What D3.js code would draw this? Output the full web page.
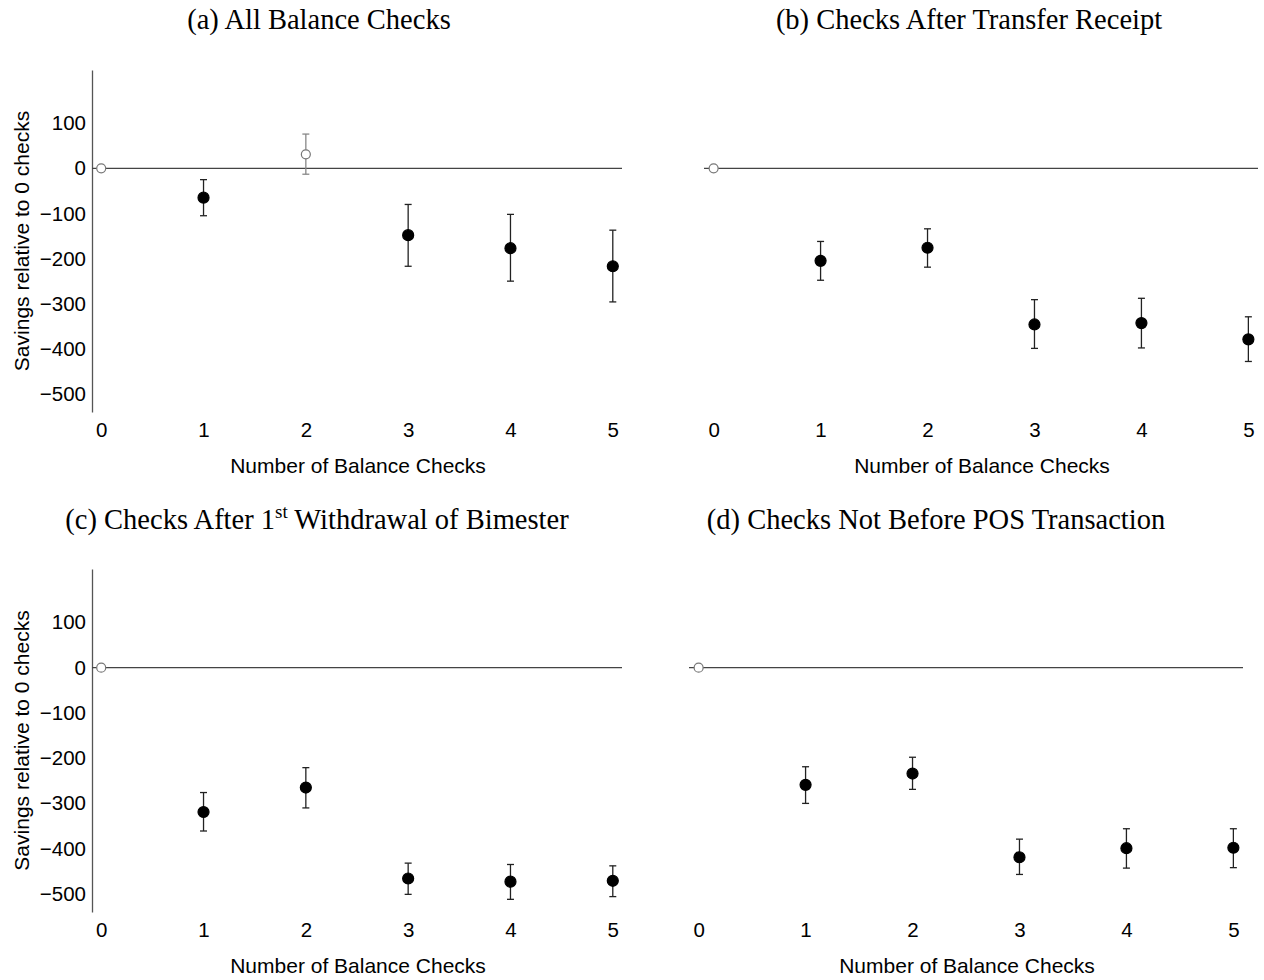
<!DOCTYPE html>
<html>
<head>
<meta charset="utf-8">
<script src="https://cdn.jsdelivr.net/npm/d3@7"></script>
<style>
  body { margin: 0; background: #fff; }
  svg { display: block; }
</style>
</head>
<body>
<svg id="chart" width="1264" height="980"></svg>
<script>
// number of balance checks on the x axis
var checks = [0, 1, 2, 3, 4, 5]
var xTickLabels = ["0", "1", "2", "3", "4", "5"]
var yTicks = [100, 0, -100, -200, -300, -400, -500]

// (a) all balance checks
var estA = [0, -65, 31, -148, -177, -217]
var loA  = [null, -105, -13, -217, -250, -296]
var hiA  = [null, -25, 76, -80, -102, -137]
var sigA = [false, true, false, true, true, true]

// (b) checks after transfer receipt
var estB = [0, -205, -176, -346, -343, -379]
var loB  = [null, -248, -219, -399, -398, -428]
var hiB  = [null, -162, -134, -291, -288, -329]
var sigB = [false, true, true, true, true, true]

// (c) checks after 1st withdrawal of bimester
var estC = [0, -319, -265, -466, -473, -471]
var loC  = [null, -361, -310, -501, -512, -506]
var hiC  = [null, -276, -221, -432, -435, -438]
var sigC = [false, true, true, true, true, true]

// (d) checks not before POS transaction
var estD = [0, -259, -234, -419, -399, -398]
var loD  = [null, -300, -269, -457, -443, -442]
var hiD  = [null, -219, -198, -379, -356, -356]
var sigD = [false, true, true, true, true, true]

var yDomain = [-540, 218]
var xTitle = "Number of Balance Checks"
var yTitle = "Savings relative to 0 checks"

var panels = [
    { est: estA, lo: loA, hi: hiA, sig: sigA, left: 92, right: 622, top: 70, bottom: 412,
      yAxis: true, title: ["(a) All Balance Checks"], titleX: 319, titleY: 29 },
    { est: estB, lo: loB, hi: hiB, sig: sigB, left: 704, right: 1258, top: 70, bottom: 412,
      yAxis: false, title: ["(b) Checks After Transfer Receipt"], titleX: 969, titleY: 29 },
    { est: estC, lo: loC, hi: hiC, sig: sigC, left: 92, right: 622, top: 569, bottom: 912,
      yAxis: true, title: ["(c) Checks After 1", "st", " Withdrawal of Bimester"], titleX: 317, titleY: 529 },
    { est: estD, lo: loD, hi: hiD, sig: sigD, left: 689, right: 1243, top: 569, bottom: 912,
      yAxis: false, title: ["(d) Checks Not Before POS Transaction"], titleX: 936, titleY: 529 }
]

var svg = d3.select("#chart")
var sans = "'Liberation Sans', Arial, Helvetica, sans-serif"
var serif = "'Liberation Serif', 'Times New Roman', Times, serif"

panels.forEach(function(p) {
    var g = svg.append("g")
    var x = d3.scaleLinear().domain([-0.09, 5.09]).range([p.left, p.right])
    var y = d3.scaleLinear().domain(yDomain).range([p.bottom, p.top])

    // title
    var t = g.append("text")
        .attr("x", p.titleX).attr("y", p.titleY)
        .attr("text-anchor", "middle")
        .style("font-family", serif).style("font-size", "28.5px").style("fill", "#000")
    if (p.title.length === 1) {
        t.text(p.title[0])
    } else {
        t.append("tspan").text(p.title[0])
        t.append("tspan").text(p.title[1]).style("font-size", "19px").attr("dy", -11)
        t.append("tspan").text(p.title[2]).attr("dy", 11)
    }

    // y axis only on the left column
    if (p.yAxis) {
        var yAxis = d3.axisLeft(y).tickValues(yTicks).tickSize(0).tickPadding(6)
            .tickFormat(function(d) { return d < 0 ? "\u2212" + Math.abs(d) : d })
        var ya = g.append("g").attr("transform", "translate(" + p.left + ",0)").call(yAxis)
        ya.select(".domain").attr("stroke", "#555").attr("stroke-width", 1.3)
        ya.selectAll("text").style("font-family", sans).style("font-size", "20.5px").attr("fill", "#000")

        g.append("text")
            .attr("transform", "translate(22," + (p.top + p.bottom) / 2 + ") rotate(-90)")
            .attr("text-anchor", "middle").attr("dy", "0.35em")
            .style("font-family", sans).style("font-size", "21px")
            .text(yTitle)
    }

    // x tick labels, no axis line
    var xAxis = d3.axisBottom(x).tickValues(checks).tickSize(0).tickPadding(0)
        .tickFormat(function(d, i) { return xTickLabels[i] })
    var xa = g.append("g").attr("transform", "translate(0," + (p.bottom + 10) + ")").call(xAxis)
    xa.select(".domain").remove()
    xa.selectAll("text").style("font-family", sans).style("font-size", "20.5px").attr("fill", "#000")

    g.append("text")
        .attr("x", (x(0) + x(5)) / 2 + 1).attr("y", p.bottom + 61)
        .attr("text-anchor", "middle")
        .style("font-family", sans).style("font-size", "21px")
        .text(xTitle)

    // zero reference line
    g.append("line")
        .attr("x1", p.left).attr("x2", p.right)
        .attr("y1", y(0)).attr("y2", y(0))
        .attr("stroke", "#444").attr("stroke-width", 1.3)

    var rows = checks.map(function(c, i) {
        return { c: c, est: p.est[i], lo: p.lo[i], hi: p.hi[i], sig: p.sig[i] }
    })

    // error bars
    var bars = g.selectAll(".err").data(rows.filter(function(d) { return d.lo !== null }))
        .enter().append("g").attr("class", "err")
        .attr("stroke", function(d) { return d.sig ? "#222" : "#888" })
        .attr("stroke-width", 1.3)
    bars.append("line")
        .attr("x1", function(d) { return x(d.c) }).attr("x2", function(d) { return x(d.c) })
        .attr("y1", function(d) { return y(d.lo) }).attr("y2", function(d) { return y(d.hi) })
    bars.append("line")
        .attr("x1", function(d) { return x(d.c) - 3.5 }).attr("x2", function(d) { return x(d.c) + 3.5 })
        .attr("y1", function(d) { return y(d.hi) }).attr("y2", function(d) { return y(d.hi) })
    bars.append("line")
        .attr("x1", function(d) { return x(d.c) - 3.5 }).attr("x2", function(d) { return x(d.c) + 3.5 })
        .attr("y1", function(d) { return y(d.lo) }).attr("y2", function(d) { return y(d.lo) })

    // point estimates: filled when significant, hollow grey otherwise
    g.selectAll(".pt").data(rows).enter().append("circle")
        .attr("class", "pt")
        .attr("cx", function(d) { return x(d.c) })
        .attr("cy", function(d) { return y(d.est) })
        .attr("r", function(d) { return d.sig ? 5.5 : 4.5 })
        .attr("fill", function(d) { return d.sig ? "#000" : "#fff" })
        .attr("stroke", function(d) { return d.sig ? "#000" : "#777" })
        .attr("stroke-width", 1.2)
})
</script>
</body>
</html>
